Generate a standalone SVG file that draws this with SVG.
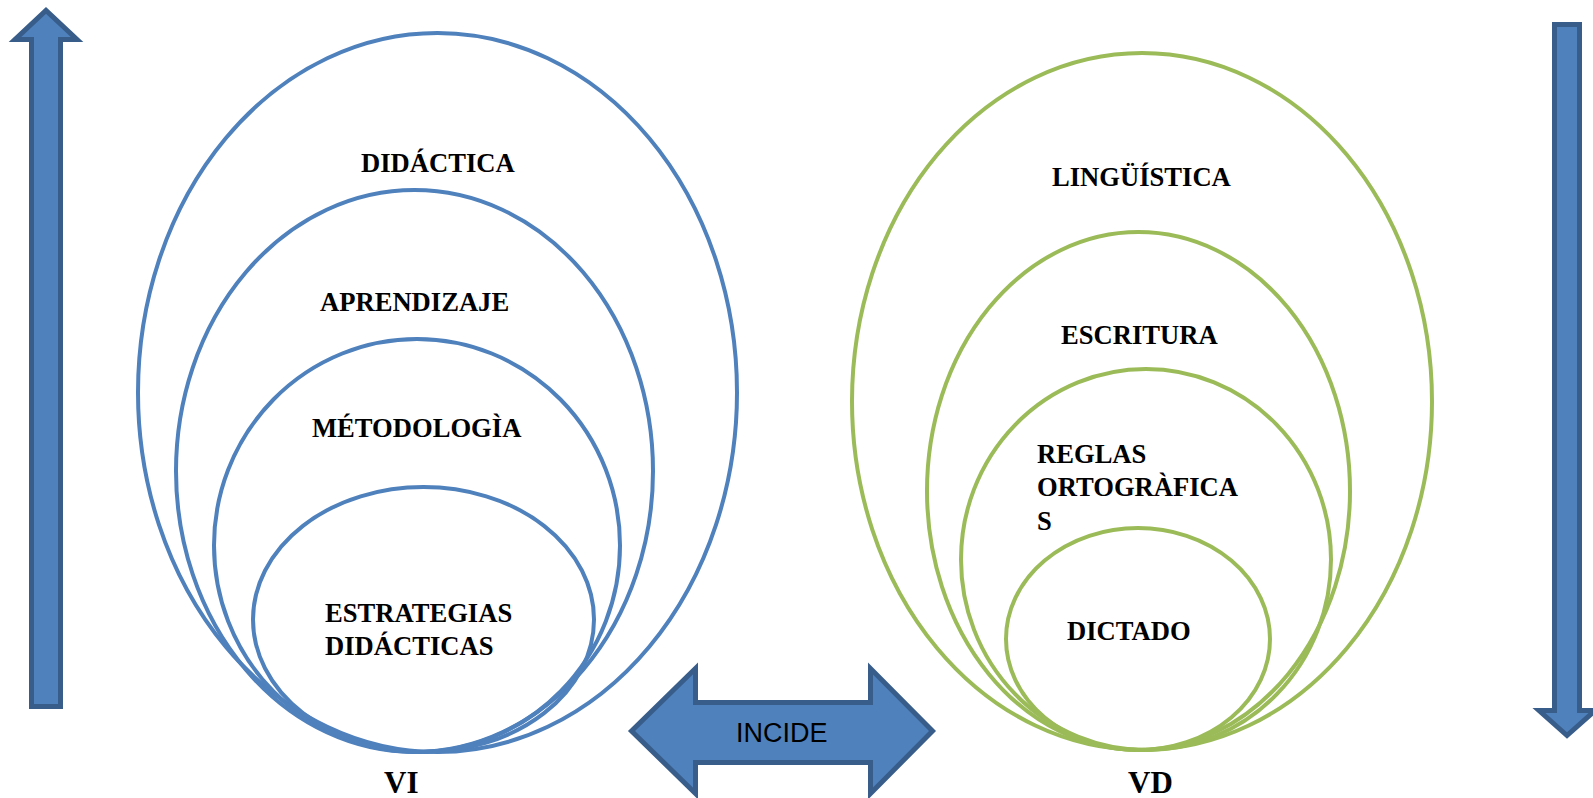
<svg xmlns="http://www.w3.org/2000/svg" width="1593" height="798" viewBox="0 0 1593 798">
<style>
.arrow{fill:#4F81BD;stroke:#385D8A;stroke-width:5;stroke-linejoin:miter}
.blue{fill:none;stroke:#4F81BD;stroke-width:4}
.green{fill:none;stroke:#9BBB59;stroke-width:4}
.lbl{font-family:"Liberation Serif","Times New Roman",serif;font-weight:bold;font-size:26.6px;fill:#000}
.big{font-size:31px}
.inc{font-family:"Liberation Sans",Arial,sans-serif;font-size:27px;fill:#000}
</style>
<rect width="1593" height="798" fill="#fff"/>
<g id="arrow-up">
<path class="arrow" d="M31.5,706.5 L60.5,706.5 L60.5,39.5 L77,39.5 L46,10.5 L15,39.5 L31.5,39.5 Z"/>
</g>
<g id="arrow-down">
<path class="arrow" d="M1554.5,24.5 L1579.5,24.5 L1579.5,710.5 L1595,710.5 L1567,735.5 L1539,710.5 L1554.5,710.5 Z"/>
</g>
<g id="vi-didactica">
<ellipse class="blue" cx="437.5" cy="392.5" rx="299.5" ry="359.5"/>
<text class="lbl" x="361" y="172">DIDÁCTICA</text>
</g>
<g id="vi-aprendizaje">
<ellipse class="blue" cx="414.5" cy="471" rx="238.5" ry="281"/>
<text class="lbl" x="320" y="311">APRENDIZAJE</text>
</g>
<g id="vi-metodologia">
<ellipse class="blue" cx="417" cy="545.5" rx="203" ry="206.5"/>
<text class="lbl" x="312" y="437">MÉTODOLOGÌA</text>
</g>
<g id="vi-estrategias">
<ellipse class="blue" cx="423.5" cy="619.5" rx="170.5" ry="132.5"/>
<text class="lbl" x="325" y="622">ESTRATEGIAS</text>
<text class="lbl" x="325" y="655">DIDÁCTICAS</text>
</g>
<g id="vi-label">
<text class="lbl big" x="384" y="793">VI</text>
</g>
<g id="vd-linguistica">
<ellipse class="green" cx="1142" cy="401.5" rx="290" ry="348.5"/>
<text class="lbl" x="1052" y="186">LINGÜÍSTICA</text>
</g>
<g id="vd-escritura">
<ellipse class="green" cx="1138.5" cy="491" rx="211.5" ry="259"/>
<text class="lbl" x="1061" y="344">ESCRITURA</text>
</g>
<g id="vd-reglas">
<ellipse class="green" cx="1146" cy="559.5" rx="185" ry="190.5"/>
<text class="lbl" x="1037" y="463">REGLAS</text>
<text class="lbl" x="1037" y="496">ORTOGRÀFICA</text>
<text class="lbl" x="1037" y="530">S</text>
</g>
<g id="vd-dictado">
<ellipse class="green" cx="1138" cy="639" rx="132" ry="111"/>
<text class="lbl" x="1067" y="640">DICTADO</text>
</g>
<g id="vd-label">
<text class="lbl big" x="1128" y="793">VD</text>
</g>
<g id="connectors">
<path class="arrow" d="M631.5,731 L695.5,668.5 L695.5,702.5 L870.5,702.5 L870.5,668.5 L932.5,731 L870.5,793.5 L870.5,762.5 L695.5,762.5 L695.5,793.5 Z"/>
<text class="inc" x="736" y="742">INCIDE</text>
</g>
</svg>
